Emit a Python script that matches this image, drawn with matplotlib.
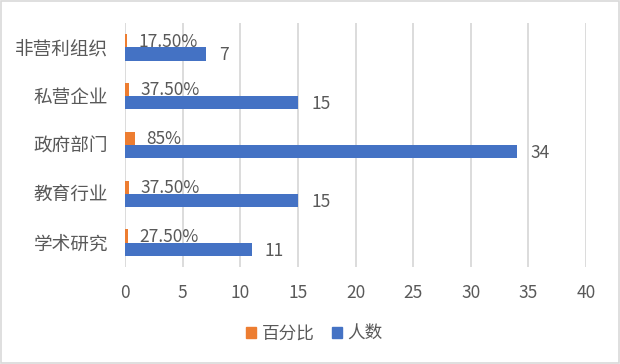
import matplotlib
matplotlib.use('Agg')
import matplotlib.pyplot as plt
from matplotlib.patches import Rectangle, Patch

plt.rcParams['font.family'] = ['Noto Sans CJK SC', 'DejaVu Sans']

# 数据
categories = ['非营利组织', '私营企业', '政府部门', '教育行业', '学术研究']
pct_values = [0.175, 0.375, 0.85, 0.375, 0.275]
pct_labels = ['17.50%', '37.50%', '85%', '37.50%', '27.50%']
count_values = [7, 15, 34, 15, 11]

orange = '#ED7D31'
blue = '#4472C4'
txt = '#595959'
grid_c = '#D9D9D9'

fig = plt.figure(figsize=(6.2, 3.64), dpi=100)
ax = fig.add_axes([125 / 620, 1 - 267 / 364, 461 / 620, 244 / 364])

ys = list(range(len(categories)))
h = 0.27
y_pct = [y - h / 2 for y in ys]
y_cnt = [y + h / 2 for y in ys]

ax.barh(y_pct, pct_values, height=h, color=orange, label='百分比', zorder=3)
ax.barh(y_cnt, count_values, height=h, color=blue, label='人数', zorder=3)

for y, v, lab in zip(y_pct, pct_values, pct_labels):
    ax.annotate(lab, (v, y), xytext=(8, -0.5), textcoords='offset points',
                va='center', ha='left', fontsize=12.5, color=txt, zorder=4)
for y, v in zip(y_cnt, count_values):
    ax.annotate(str(v), (v, y), xytext=(9.5, -1), textcoords='offset points',
                va='center', ha='left', fontsize=12.5, color=txt, zorder=4)

ax.set_xlim(0, 40)
ax.set_xticks(range(0, 41, 5))
ax.set_ylim(len(categories) - 0.5, -0.5)
ax.set_yticks(ys)
ax.set_yticklabels(categories, fontsize=13.4)
ax.tick_params(axis='both', length=0, colors=txt)
ax.tick_params(axis='x', pad=12, labelsize=12.5)
ax.tick_params(axis='y', pad=12)
for s in ax.spines.values():
    s.set_visible(False)
ax.grid(axis='x', color=grid_c, linewidth=1.3, zorder=0)
ax.set_axisbelow(True)

handles = [Patch(color=orange), Patch(color=blue)]
fig.legend(handles, ['百分比', '人数'], loc='center', bbox_to_anchor=(0.507, 0.083),
           ncol=2, frameon=False, fontsize=12.7, labelcolor=txt,
           handlelength=0.55, handleheight=0.55, handletextpad=0.3, columnspacing=1.0)

fig.patches.append(Rectangle((0.002, 0.003), 0.996, 0.994, transform=fig.transFigure,
                             fill=False, edgecolor=grid_c, linewidth=1.2))

fig.savefig('out.png', dpi=100)
